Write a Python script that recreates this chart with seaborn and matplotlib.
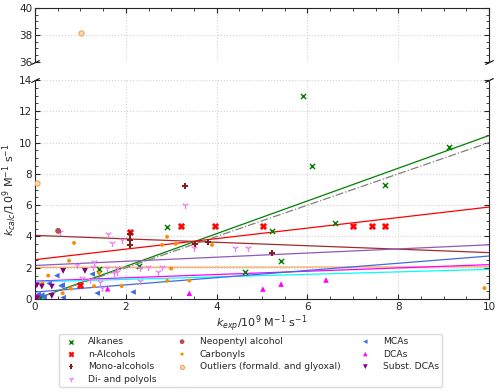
import numpy as np
import pandas as pd
import matplotlib
matplotlib.use("Agg")
from matplotlib import pyplot as plt
from matplotlib.ticker import MultipleLocator
import seaborn as sb

# ---- data (k in 1e9 M^-1 s^-1) ----
alk_x = [0.10, 1.41, 2.29, 2.91, 4.63, 5.22, 5.42, 5.90, 6.10, 6.61, 7.71, 9.12]
alk_y = [0.15, 1.92, 2.12, 4.62, 1.73, 4.36, 2.44, 12.95, 8.53, 4.87, 7.31, 9.74]

nalc_x = [0.99, 2.10, 3.21, 3.97, 5.02, 7.00, 7.42, 7.71]
nalc_y = [0.90, 4.30, 4.68, 4.68, 4.68, 4.68, 4.68, 4.68]

mono_x = [2.10, 2.10, 2.10, 3.30, 3.52, 3.81, 5.22]
mono_y = [4.15, 3.75, 3.45, 7.24, 3.54, 3.65, 2.95]

neo_x = [0.51]
neo_y = [4.36]

poly_x = [0.55, 1.60, 1.70, 1.92, 3.30, 3.50, 4.40, 4.69, 1.30, 1.28, 1.59, 1.81,
          2.31, 2.49, 2.80, 1.80, 2.71, 1.74, 1.04, 1.21, 1.43, 2.31, 1.48, 0.92]
poly_y = [4.29, 4.17, 3.60, 3.78, 6.03, 3.27, 3.27, 3.27, 2.40, 2.05, 2.00, 2.00,
          2.00, 2.05, 2.05, 1.70, 1.73, 1.67, 1.35, 1.22, 1.10, 1.13, 0.70, 2.18]

carb_x = [0.86, 2.91, 2.80, 3.10, 3.90, 0.75, 0.29, 0.16, 1.30, 1.91, 1.41, 3.00,
          2.91, 3.40, 0.79, 0.61, 9.90]
carb_y = [3.59, 3.98, 3.46, 3.53, 3.46, 2.45, 1.50, 1.00, 0.83, 0.83, 1.67, 1.95,
          1.18, 1.18, 0.67, 0.38, 0.70]

outl_x = [1.01, 0.05]
outl_y = [38.15, 7.42]

mca_x = [0.48, 0.57, 0.62, 0.31, 1.26, 1.37, 2.16, 0.07, 0.15, 0.60, 0.20]
mca_y = [1.50, 0.85, 0.10, 1.00, 1.60, 0.38, 0.45, 0.30, 0.26, 0.90, 0.10]

dca_x = [1.60, 3.40, 5.02, 5.42, 6.41, 0.05]
dca_y = [0.66, 0.37, 0.64, 0.96, 1.22, 0.20]

sdca_x = [0.04, 0.15, 0.37, 0.62, 1.10, 0.37, 0.04]
sdca_y = [0.88, 0.80, 0.80, 1.80, 1.80, 0.20, 0.05]

# linear fits, value at k_exp = 0 and k_exp = 10
fit_x = [0, 10]
fit_y0 = [0.00, 2.52, 4.07, 2.15, 2.03, 1.15, 1.10, 0.45]
fit_y10 = [10.45, 5.88, 2.97, 3.47, 2.06, 2.20, 1.90, 2.75]
fit_colors = ["green", "red", "brown", "#8c5cb8", "sandybrown", "magenta", "cyan", "royalblue"]

# ---- figure ----
sb.set_style("ticks")
plt.rcParams["font.size"] = 7.5

fig = plt.figure(figsize=(5, 3.92), dpi=100)
ax_top = fig.add_axes([0.07, 0.842, 0.908, 0.138])
ax_bot = fig.add_axes([0.07, 0.237, 0.908, 0.559])

groups = [
    ("Alkanes", alk_x, alk_y, "x", "green", 14, dict(linewidths=1.0)),
    ("n-Alcohols", nalc_x, nalc_y, "X", "red", 22, dict(edgecolor="red", linewidth=0.3)),
    ("Mono-alcohols", mono_x, mono_y, "P", "#8b1a1a", 18, dict(edgecolor="none")),
    ("Di- and polyols", poly_x, poly_y, "1", "violet", 26, dict(linewidths=1.0)),
    ("Neopentyl alcohol", neo_x, neo_y, "o", "#b05050", 18, dict(edgecolor="none")),
    ("Carbonyls", carb_x, carb_y, "o", "darkorange", 8, dict(edgecolor="none")),
    ("Outliers (formald. and glyoxal)", outl_x, outl_y, "o", "#fcd9a8", 14,
     dict(edgecolor="sandybrown", linewidth=0.8)),
    ("MCAs", mca_x, mca_y, "<", "royalblue", 16, dict(edgecolor="none")),
    ("DCAs", dca_x, dca_y, "^", "magenta", 16, dict(edgecolor="none")),
    ("Subst. DCAs", sdca_x, sdca_y, "v", "purple", 18, dict(edgecolor="none")),
]

for ax in (ax_top, ax_bot):
    for yy0, yy10, c in zip(fit_y0, fit_y10, fit_colors):
        sb.lineplot(x=fit_x, y=[yy0, yy10], color=c, lw=0.9, ax=ax, legend=False, zorder=2)
    # 1:1 line
    sb.lineplot(x=fit_x, y=fit_x, color="gray", lw=0.9, ls="-.", ax=ax, legend=False, zorder=2)
    for name, gx, gy, mk, col, s, kw in groups:
        sb.scatterplot(x=gx, y=gy, marker=mk, color=col, s=s, ax=ax, legend=False,
                       label=name if ax is ax_bot else None, zorder=3, **kw)

# axis limits and ticks
for ax in (ax_top, ax_bot):
    ax.set_xlim(0, 10)
    ax.xaxis.set_major_locator(MultipleLocator(2))
    ax.xaxis.set_minor_locator(MultipleLocator(0.5))
    ax.yaxis.set_major_locator(MultipleLocator(2))
    ax.yaxis.set_minor_locator(MultipleLocator(0.5))
    ax.grid(True, which="major", ls=":", color="lightgray", lw=0.8)
    ax.set_axisbelow(True)
    ax.set_xlabel("")
    ax.set_ylabel("")

ax_top.set_ylim(36, 40)
ax_bot.set_ylim(0, 14)

ax_top.spines["bottom"].set_visible(False)
ax_bot.spines["top"].set_visible(False)
ax_top.tick_params(which="both", direction="in", top=True, bottom=False, right=True,
                   labelbottom=False, labelsize=7.5, pad=2)
ax_bot.tick_params(which="both", direction="in", top=False, right=True, labelsize=7.5, pad=2)
ax_top.tick_params(which="major", length=3.5)
ax_bot.tick_params(which="major", length=3.5)
ax_top.tick_params(which="minor", length=2)
ax_bot.tick_params(which="minor", length=2)

# break marks
kw = dict(marker=[(-1, -0.5), (1, 0.5)], markersize=6, linestyle="none",
          color="k", mec="k", mew=0.8, clip_on=False)
ax_top.plot([0, 1], [0, 0], transform=ax_top.transAxes, **kw)
ax_bot.plot([0, 1], [1, 1], transform=ax_bot.transAxes, **kw)

ax_bot.set_xlabel(r"$k_{exp}$/10$^9$ M$^{-1}$ s$^{-1}$", fontsize=8, labelpad=1)
ax_bot.set_ylabel(r"$k_{calc}$/10$^9$ M$^{-1}$ s$^{-1}$", fontsize=8)
ax_bot.yaxis.set_label_coords(-0.036, 0.5)

handles, labels = ax_bot.get_legend_handles_labels()
fig.legend(handles, labels, loc="upper center", bbox_to_anchor=(0.501, 0.16), ncol=3,
           fontsize=6.6, frameon=True, edgecolor="lightgray", handlelength=1.9,
           handletextpad=0.95, columnspacing=1.8, labelspacing=0.38, borderpad=0.35,
           markerscale=0.8)

fig.savefig("out.png", dpi=100)
